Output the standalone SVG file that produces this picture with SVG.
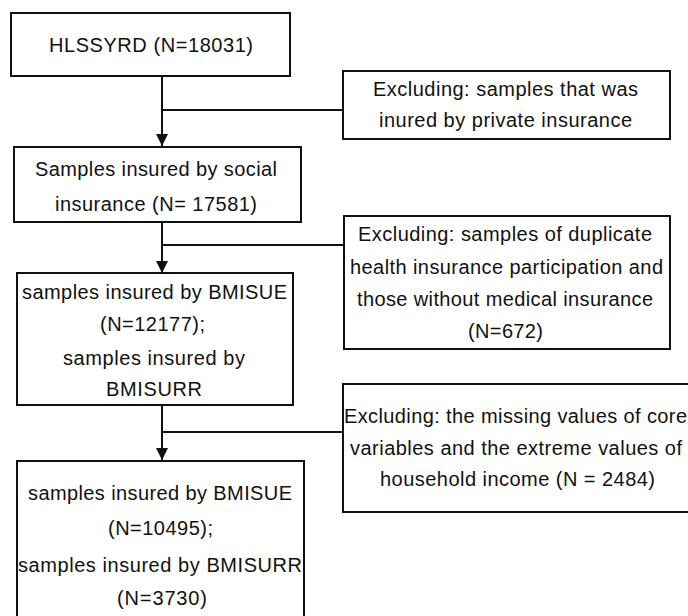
<svg xmlns="http://www.w3.org/2000/svg" width="688" height="616" viewBox="0 0 688 616">
<style>
.box{fill:#fff;stroke:#111;stroke-width:2}
.t{font-family:"Liberation Sans",Arial,sans-serif;font-size:20px;fill:#111}
.c{fill:none;stroke:#111;stroke-width:2}
</style>
<defs>
<marker id="ah" markerUnits="userSpaceOnUse" markerWidth="12" markerHeight="12" refX="12" refY="6" orient="auto" viewBox="0 0 12 12">
<path d="M0,0 L12,6 L0,12 Z" fill="#111"/>
</marker>
</defs>
<rect width="688" height="616" fill="#fff"/>
<g id="connectors">
<line class="c" x1="162" y1="76" x2="162" y2="146" marker-end="url(#ah)"/>
<line class="c" x1="162" y1="110" x2="344" y2="110"/>
<line class="c" x1="162" y1="222" x2="162" y2="273" marker-end="url(#ah)"/>
<line class="c" x1="162" y1="245" x2="344" y2="245"/>
<line class="c" x1="162" y1="405" x2="162" y2="460" marker-end="url(#ah)"/>
<line class="c" x1="162" y1="432" x2="343" y2="432"/>
</g>
<g id="n1">
<rect class="box" x="11" y="13" width="279" height="63"/>
<text class="t" x="49" y="52" textLength="204" lengthAdjust="spacing">HLSSYRD (N=18031)</text>
</g>
<g id="r1">
<rect class="box" x="343" y="71" width="327" height="68"/>
<text class="t" x="373" y="96" textLength="265" lengthAdjust="spacing">Excluding: samples that was</text>
<text class="t" x="379" y="127" textLength="253" lengthAdjust="spacing">inured by private insurance</text>
</g>
<g id="n2">
<rect class="box" x="14" y="147" width="287" height="75"/>
<text class="t" x="35" y="176" textLength="242" lengthAdjust="spacing">Samples insured by social</text>
<text class="t" x="55" y="211" textLength="202" lengthAdjust="spacing">insurance (N= 17581)</text>
</g>
<g id="r2">
<rect class="box" x="344" y="216" width="326" height="133"/>
<text class="t" x="358" y="241" textLength="294" lengthAdjust="spacing">Excluding: samples of duplicate</text>
<text class="t" x="350" y="274" textLength="313" lengthAdjust="spacing">health insurance participation and</text>
<text class="t" x="357" y="306" textLength="296" lengthAdjust="spacing">those without medical insurance</text>
<text class="t" x="468" y="338" textLength="75" lengthAdjust="spacing">(N=672)</text>
</g>
<g id="n3">
<rect class="box" x="17" y="273" width="276" height="132"/>
<text class="t" x="22" y="299" textLength="265" lengthAdjust="spacing">samples insured by BMISUE</text>
<text class="t" x="100" y="331" textLength="105" lengthAdjust="spacing">(N=12177);</text>
<text class="t" x="63" y="365" textLength="182" lengthAdjust="spacing">samples insured by</text>
<text class="t" x="106" y="396" textLength="96" lengthAdjust="spacing">BMISURR</text>
</g>
<g id="r3">
<rect class="box" x="343" y="384" width="360" height="128"/>
<text class="t" x="344" y="423" textLength="343" lengthAdjust="spacing">Excluding: the missing values of core</text>
<text class="t" x="350" y="455" textLength="332" lengthAdjust="spacing">variables and the extreme values of</text>
<text class="t" x="380" y="486" textLength="275" lengthAdjust="spacing">household income (N = 2484)</text>
</g>
<g id="n4">
<rect class="box" x="17" y="461" width="287" height="170"/>
<text class="t" x="28" y="500" textLength="264" lengthAdjust="spacing">samples insured by BMISUE</text>
<text class="t" x="108" y="535" textLength="105" lengthAdjust="spacing">(N=10495);</text>
<text class="t" x="18" y="572" textLength="284" lengthAdjust="spacing">samples insured by BMISURR</text>
<text class="t" x="117" y="605" textLength="90" lengthAdjust="spacing">(N=3730)</text>
</g>
</svg>
